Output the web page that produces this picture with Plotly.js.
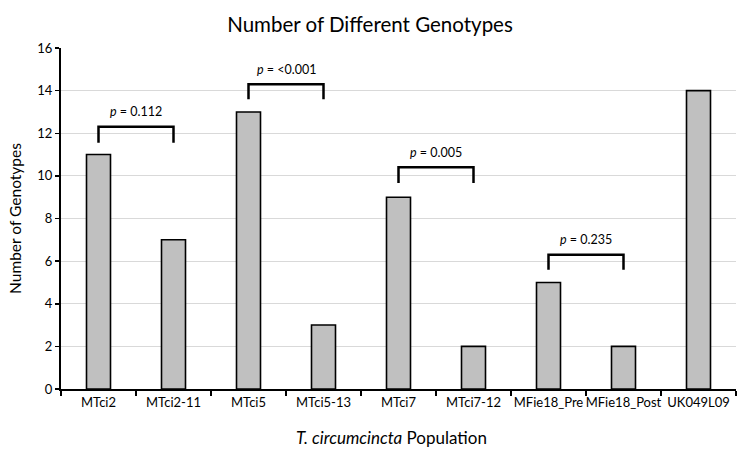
<!DOCTYPE html>
<html><head><meta charset="utf-8">
<script src="https://cdn.plot.ly/plotly-3.0.1.min.js"></script>
<style>html,body{margin:0;padding:0;background:#fff}#chart{width:740px;height:454px}</style>
</head><body><div id="chart"></div>
<script>
const categories = ["MTci2","MTci2-11","MTci5","MTci5-13","MTci7","MTci7-12","MFie18_Pre","MFie18_Post","UK049L09"];
const genotypes = [11,7,13,3,9,2,5,2,14];
const pairLeft = ["MTci2","MTci5","MTci7","MFie18_Pre"];
const pairRight = ["MTci2-11","MTci5-13","MTci7-12","MFie18_Post"];
const pValues = ["0.112","<0.001","0.005","0.235"];
const bracketTop = [12.3,14.3,10.4,6.3];
const bracketBottom = [11.55,13.6,9.67,5.6];
const labelY = [13.0,15.0,11.1,7.0];
const yTicks = [0,2,4,6,8,10,12,14,16];

const FONT = "Lato, 'Open Sans', sans-serif";
const traces = [{
  type: "bar", x: categories, y: genotypes,
  marker: {color: "#c0c0c0", line: {color: "#000", width: 1.6}},
  hoverinfo: "x+y"
}];
const annotations = [];
pairLeft.forEach((l, i) => {
  traces.push({
    type: "scatter", mode: "lines",
    x: [l, l, pairRight[i], pairRight[i]],
    y: [bracketBottom[i], bracketTop[i], bracketTop[i], bracketBottom[i]],
    line: {color: "#000", width: 2.5}, showlegend: false, hoverinfo: "skip"
  });
  const mid = (categories.indexOf(l) + categories.indexOf(pairRight[i])) / 2;
  annotations.push({
    x: mid, y: labelY[i], xref: "x", yref: "y", showarrow: false,
    text: "<i>p</i> = " + pValues[i].replace("<", "&lt;"),
    font: {family: FONT, size: 12.5, color: "#000"}
  });
});
annotations.push({
  xref: "paper", yref: "paper", x: 0.489, y: -0.142, xanchor: "center", yanchor: "middle",
  showarrow: false, text: "<i>T. circumcincta</i> Population",
  font: {family: FONT, size: 17, color: "#000"}
});

const layout = {
  width: 740, height: 454,
  margin: {l: 61, r: 4, t: 48, b: 65},
  paper_bgcolor: "#fff", plot_bgcolor: "#fff",
  showlegend: false,
  bargap: 0.68,
  font: {family: FONT, color: "#222"},
  title: {text: "Number of Different Genotypes", x: 0.5, xref: "container", y: 0.962, yref: "container",
          font: {family: FONT, size: 20.5, color: "#000"}},
  xaxis: {
    type: "category", showline: true, linecolor: "#000", linewidth: 2,
    ticks: "outside", tickson: "boundaries", ticklen: 5, tickcolor: "#000", tickwidth: 1.5,
    tickangle: 0,
    tickfont: {family: FONT, size: 13, color: "#000"}, showgrid: false, zeroline: false
  },
  yaxis: {
    range: [0, 16], tickvals: yTicks, showline: true, linecolor: "#000", linewidth: 2,
    ticks: "outside", ticklen: 4, tickcolor: "#000", tickwidth: 1.5,
    tickfont: {family: FONT, size: 13, color: "#000"},
    showgrid: true, gridcolor: "#d9d9d9", gridwidth: 1, zeroline: false,
    title: {text: "Number of Genotypes", standoff: 12, font: {family: FONT, size: 15.5, color: "#000"}}
  },
  annotations: annotations
};
Plotly.newPlot("chart", traces, layout, {displayModeBar: false, staticPlot: true});
</script></body></html>
